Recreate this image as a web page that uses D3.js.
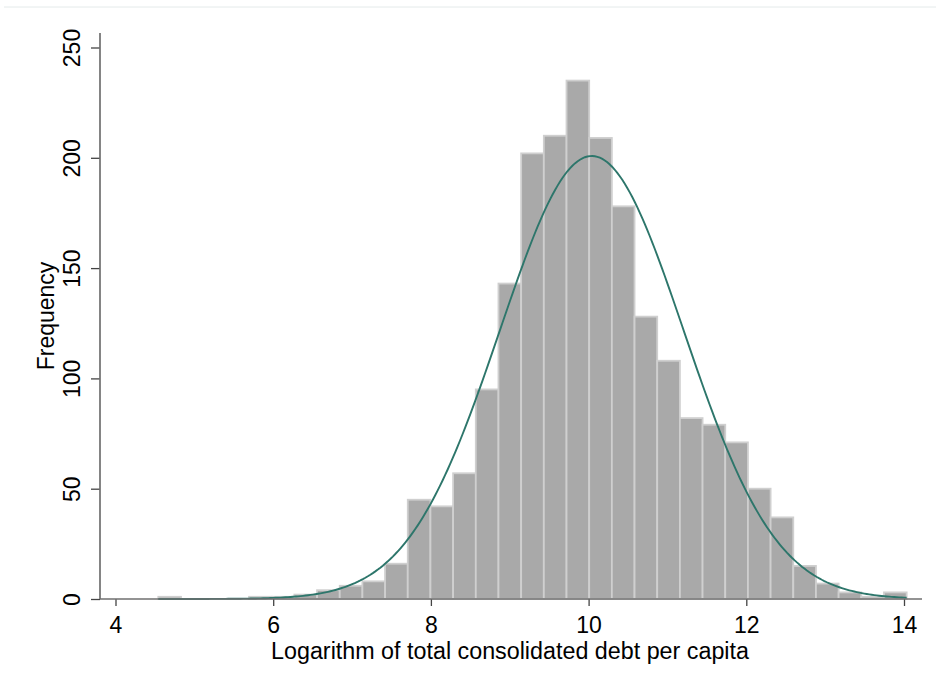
<!DOCTYPE html>
<html>
<head>
<meta charset="utf-8">
<script src="https://cdn.jsdelivr.net/npm/d3@7"></script>
<style>
    body { margin: 0; background: #fff; }
    text { font-family: 'Liberation Sans', Arial, sans-serif; fill: #000; }
</style>
</head>
<body>
<div id="chart"></div>
<script>
// histogram bins: start of first bin, width, and frequency per bin (33 bins)
var binStart = 4.543;
var binWidth = 0.2876;
var counts = [1, 0, 0, 0, 1, 1, 2, 4, 6, 8, 16, 45, 42, 57, 95, 143, 202, 210, 235, 209,
              178, 128, 108, 82, 79, 71, 50, 37, 15, 7, 3, 1, 3];

// normal overlay parameters
var curveMean = 10.04;
var curveSd = 1.165;

var xTicks = [4, 6, 8, 10, 12, 14];
var yTicks = [0, 50, 100, 150, 200, 250];
var xTitle = 'Logarithm of total consolidated debt per capita';
var yTitle = 'Frequency';

var width = 936, height = 684;
var svg = d3.select('#chart').append('svg').attr('width', width).attr('height', height);

var x = d3.scaleLinear().domain([4, 14]).range([115.5, 904]);
var y = d3.scaleLinear().domain([0, 250]).range([599, 47.5]);

// faint line at top of the image
svg.append('line').attr('x1', 4).attr('x2', 936).attr('y1', 7).attr('y2', 7)
    .attr('stroke', '#e4eaea').attr('stroke-width', 1);

var bins = counts.map(function(c, i) {
    return {x0: binStart + i * binWidth, x1: binStart + (i + 1) * binWidth, n: c};
});

svg.append('g').selectAll('rect')
    .data(bins.filter(function(d) { return d.n > 0; }))
    .enter().append('rect')
    .attr('x', function(d) { return x(d.x0); })
    .attr('width', function(d) { return x(d.x1) - x(d.x0); })
    .attr('y', function(d) { return y(d.n); })
    .attr('height', function(d) { return y(0) - y(d.n); })
    .attr('fill', '#a9a9a9')
    .attr('stroke', '#cfcfcf')
    .attr('stroke-width', 1.8);

// normal density scaled to frequencies
var total = d3.sum(counts);
var binEnd = binStart + counts.length * binWidth;
var curve = d3.range(0, 301).map(function(i) {
    var v = binStart + (binEnd - binStart) * i / 300;
    var z = (v - curveMean) / curveSd;
    return [v, total * binWidth * Math.exp(-0.5 * z * z) / (curveSd * Math.sqrt(2 * Math.PI))];
});
svg.append('path')
    .datum(curve)
    .attr('d', d3.line().x(function(d) { return x(d[0]); }).y(function(d) { return y(d[1]); }))
    .attr('fill', 'none')
    .attr('stroke', '#2d766b')
    .attr('stroke-width', 1.9);

// axes
var xAxis = svg.append('g').attr('transform', 'translate(0,' + y(0) + ')')
    .call(d3.axisBottom(x).tickValues(xTicks).tickSize(7).tickFormat(d3.format('d')));
xAxis.select('.domain').remove();
xAxis.selectAll('.tick line').attr('stroke', '#444').attr('stroke-width', 1.3);
xAxis.selectAll('.tick text').attr('font-size', 23).attr('dy', null).attr('y', 34)
    .style('font-family', "'Liberation Sans', Arial, sans-serif");

var yAxis = svg.append('g').attr('transform', 'translate(100,0)')
    .call(d3.axisLeft(y).tickValues(yTicks).tickSize(9).tickFormat(d3.format('d')));
yAxis.select('.domain').remove();
yAxis.selectAll('.tick line').attr('stroke', '#444').attr('stroke-width', 1.3);
yAxis.selectAll('.tick text')
    .attr('font-size', 23).attr('x', null).attr('dy', null)
    .attr('text-anchor', 'middle')
    .attr('transform', 'translate(-20,0) rotate(-90)')
    .style('font-family', "'Liberation Sans', Arial, sans-serif");

svg.append('line').attr('x1', 100).attr('x2', 922).attr('y1', y(0)).attr('y2', y(0))
    .attr('stroke', '#6f6f6f').attr('stroke-width', 1.7);
svg.append('line').attr('x1', 100).attr('x2', 100).attr('y1', 33).attr('y2', y(0))
    .attr('stroke', '#6f6f6f').attr('stroke-width', 1.7);

svg.append('text').attr('x', 510).attr('y', 659).attr('text-anchor', 'middle')
    .attr('font-size', 23.3).text(xTitle);
svg.append('text').attr('transform', 'translate(54,316) rotate(-90)')
    .attr('text-anchor', 'middle').attr('font-size', 23).text(yTitle);
</script>
</body>
</html>
